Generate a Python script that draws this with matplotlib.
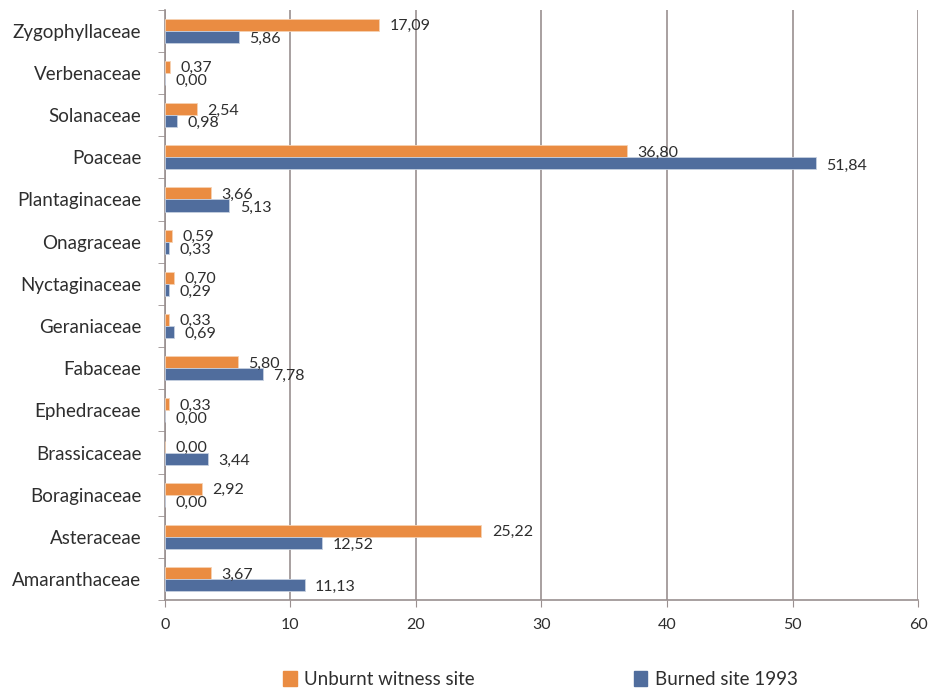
import matplotlib.pyplot as plt
from matplotlib.ticker import FixedLocator
from matplotlib.patches import Patch

# plant families, bottom to top
families = ["Amaranthaceae", "Asteraceae", "Boraginaceae", "Brassicaceae",
            "Ephedraceae", "Fabaceae", "Geraniaceae", "Nyctaginaceae",
            "Onagraceae", "Plantaginaceae", "Poaceae", "Solanaceae",
            "Verbenaceae", "Zygophyllaceae"]
unburnt = [3.67, 25.22, 2.92, 0.00, 0.33, 5.80, 0.33, 0.70, 0.59, 3.66,
           36.80, 2.54, 0.37, 17.09]
burned = [11.13, 12.52, 0.00, 3.44, 0.00, 7.78, 0.69, 0.29, 0.33, 5.13,
          51.84, 0.98, 0.00, 5.86]

orange = "#EA8C42"
blue = "#506D9D"
grey = "#9a9090"
txt = "#2e2e2e"
plt.rcParams['font.family'] = ['Lato', 'DejaVu Sans']

fig = plt.figure(figsize=(9.32, 6.93), dpi=100)
ax = fig.add_axes([0.177, 0.134, 0.808, 0.852])

y = list(range(len(families)))
h = 0.285
y_or = [v + h / 2 for v in y]
y_bl = [v - h / 2 for v in y]
ax.barh(y_or, unburnt, height=h, color=orange, edgecolor="#f6d2b3", linewidth=0.6, zorder=3)
ax.barh(y_bl, burned, height=h, color=blue, edgecolor="#c6d0e0", linewidth=0.6, zorder=3)

def fmt(v):
    return f"{v:.2f}".replace(".", ",")

for yy, v in zip(y_or, unburnt):
    ax.annotate(fmt(v), (v, yy), xytext=(7.5, -1), textcoords="offset points",
                va="center", ha="left", fontsize=11.5, color=txt, zorder=4)
for yy, v in zip(y_bl, burned):
    ax.annotate(fmt(v), (v, yy), xytext=(7.5, -1.5), textcoords="offset points",
                va="center", ha="left", fontsize=11.5, color=txt, zorder=4)

ax.set_xlim(0, 60)
ax.set_ylim(-0.5, len(families) - 0.5)
ax.set_xticks(range(0, 61, 10))
ax.set_yticks(y)
ax.set_yticklabels(families, fontsize=13.5, color=txt)
ax.yaxis.set_minor_locator(FixedLocator([v - 0.5 for v in range(len(families) + 1)]))
ax.tick_params(axis="y", which="major", length=0, pad=17)
ax.tick_params(axis="y", which="minor", length=5, color=grey)
ax.tick_params(axis="x", length=5, color=grey, labelsize=11.5, labelcolor=txt, pad=8)

ax.grid(axis="x", color=grey, linewidth=1.2, zorder=0)
for s in ["top", "right"]:
    ax.spines[s].set_visible(False)
for s in ["left", "bottom"]:
    ax.spines[s].set_color(grey)
    ax.spines[s].set_linewidth(1.2)

handles = [Patch(color=orange, label="Unburnt witness site"),
           Patch(color=blue, label="Burned site 1993")]
fig.legend(handles=handles, loc="center", bbox_to_anchor=(0.58, 0.02), ncol=2,
           frameon=False, fontsize=13.5, handlelength=0.7, handleheight=0.9,
           handletextpad=0.4, columnspacing=8.5, labelcolor=txt)

fig.savefig("out.png", dpi=100)
